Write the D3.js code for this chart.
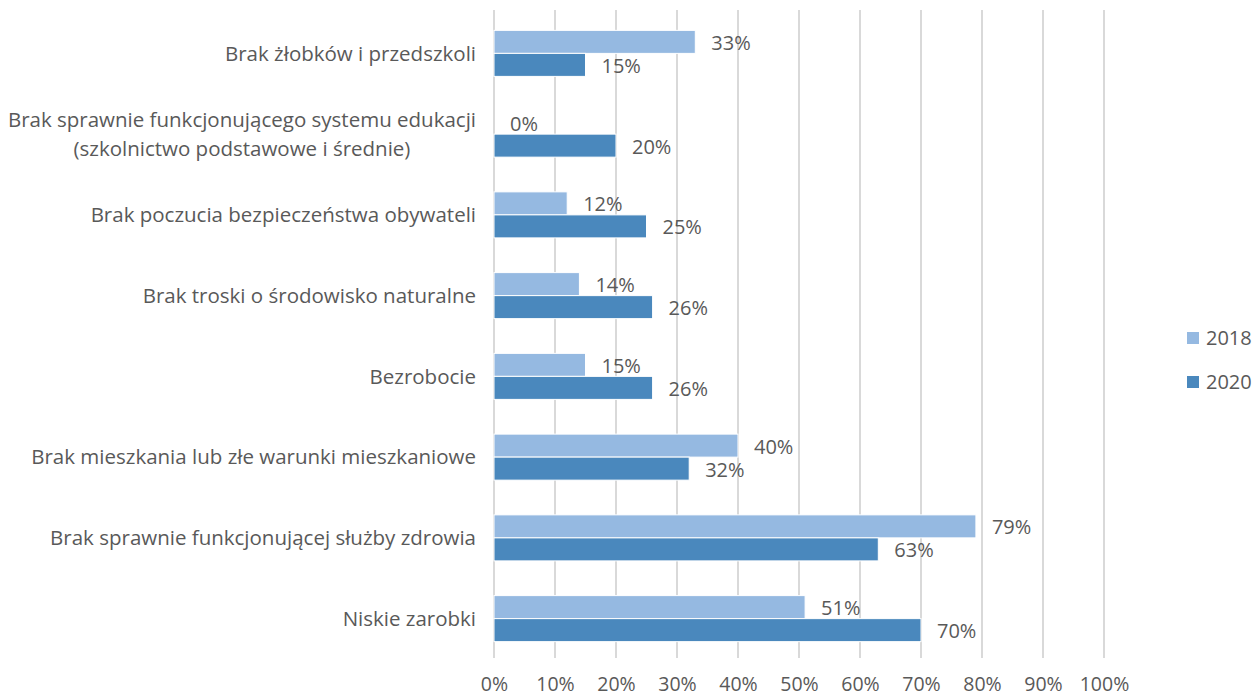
<!DOCTYPE html>
<html>
<head>
<meta charset="utf-8">
<script src="https://cdn.jsdelivr.net/npm/d3@7"></script>
<style>
  html, body { margin: 0; padding: 0; background: #fff; }
  svg { display: block; }
  text { font-family: "Open Sans", "Noto Sans", sans-serif; fill: #595959; }
</style>
</head>
<body>
<svg id="chart" width="1255" height="697"></svg>
<script>
// Categories listed top to bottom
const categories = [
  "Brak żłobków i przedszkoli",
  "Brak sprawnie funkcjonującego systemu edukacji\n(szkolnictwo podstawowe i średnie)",
  "Brak poczucia bezpieczeństwa obywateli",
  "Brak troski o środowisko naturalne",
  "Bezrobocie",
  "Brak mieszkania lub złe warunki mieszkaniowe",
  "Brak sprawnie funkcjonującej służby zdrowia",
  "Niskie zarobki"
];
const seriesNames = ["2018", "2020"];
const values2018 = [33, 0, 12, 14, 15, 40, 79, 51];
const values2020 = [15, 20, 25, 26, 26, 32, 63, 70];
const tickValues = [0, 10, 20, 30, 40, 50, 60, 70, 80, 90, 100];
const colors = { "2018": "#95b9e1", "2020": "#4a88bd" };

const svg = d3.select("#chart");
const margin = { left: 494, right: 151, top: 13, bottom: 38 };
const W = 1255, H = 697;
const plotW = W - margin.left - margin.right;   // 610
const plotH = H - margin.top - margin.bottom;
const FS = 20;

const x = d3.scaleLinear().domain([0, 100]).range([margin.left, margin.left + plotW]);
const y = d3.scaleBand().domain(categories).range([margin.top, margin.top + plotH]).paddingInner(0.43).paddingOuter(0.215);
const inner = d3.scaleBand().domain(seriesNames).range([0, y.bandwidth()]);

// vertical gridlines, running a little below the plot as tick marks
const grid = svg.append("g");
grid.selectAll("line").data(tickValues).join("line")
  .attr("x1", d => x(d)).attr("x2", d => x(d))
  .attr("y1", margin.top - 3).attr("y2", margin.top + plotH - 1)
  .attr("stroke", "#d9d9d9").attr("stroke-width", 2);

// x axis labels
const xAxis = d3.axisBottom(x).tickValues(tickValues).tickFormat(d => d + "%").tickSize(0).tickPadding(0);
const gx = svg.append("g").attr("transform", `translate(0,${H - 6})`).call(xAxis);
gx.select(".domain").remove();
gx.selectAll("text").attr("font-size", 19.5).attr("fill", "#595959").attr("dy", "0").attr("y", 0)
  .style("font-family", '"Open Sans", "Noto Sans", sans-serif');

const rows = categories.map((c, i) => ({ cat: c, v: { "2018": values2018[i], "2020": values2020[i] } }));

const groups = svg.append("g").selectAll("g").data(rows).join("g")
  .attr("transform", d => `translate(0,${y(d.cat)})`);

groups.selectAll("rect").data(d => seriesNames.map(s => ({ s, v: d.v[s] }))).join("rect")
  .attr("x", x(0))
  .attr("y", d => inner(d.s))
  .attr("width", d => x(d.v) - x(0))
  .attr("height", inner.bandwidth())
  .attr("fill", d => colors[d.s])
  .attr("stroke", "#ffffff").attr("stroke-width", d => d.v > 0 ? 1 : 0);

groups.selectAll("text.val").data(d => seriesNames.map(s => ({ s, v: d.v[s] }))).join("text")
  .attr("class", "val")
  .attr("x", d => x(d.v) + 16)
  .attr("y", d => inner(d.s) + inner.bandwidth() / 2 + 1)
  .attr("dy", "0.35em")
  .attr("font-size", FS)
  .text(d => d.v + "%");

// category labels, right aligned
const labelX = margin.left - 18;
const catLabels = svg.append("g").selectAll("text").data(categories).join("text")
  .attr("x", labelX)
  .attr("y", d => y(d) + y.bandwidth() / 2)
  .attr("text-anchor", "end")
  .attr("font-size", 20.5);
catLabels.each(function (d) {
  const lines = d.split("\n");
  const t = d3.select(this);
  lines.forEach((ln, i) => {
    t.append("tspan").attr("x", labelX)
      .attr("dy", i === 0 ? `${0.35 - (lines.length - 1) * 0.7}em` : "1.4em")
      .attr("text-anchor", lines.length > 1 ? "middle" : "end")
      .text(ln);
  });
});
// center the two-line label block under its longest line
catLabels.filter(d => d.includes("\n")).each(function () {
  const bb = this.getBBox();
  const cx = labelX - bb.width / 2;
  d3.select(this).selectAll("tspan").attr("x", cx);
});

// legend
const legend = svg.append("g").attr("transform", "translate(1187,338)");
seriesNames.forEach((s, i) => {
  const g = legend.append("g").attr("transform", `translate(0,${i * 44})`);
  g.append("rect").attr("x", 0).attr("y", -6).attr("width", 12).attr("height", 12).attr("fill", colors[s]);
  g.append("text").attr("x", 19).attr("y", 0).attr("dy", "0.35em").attr("font-size", FS).text(s);
});
</script>
</body>
</html>
